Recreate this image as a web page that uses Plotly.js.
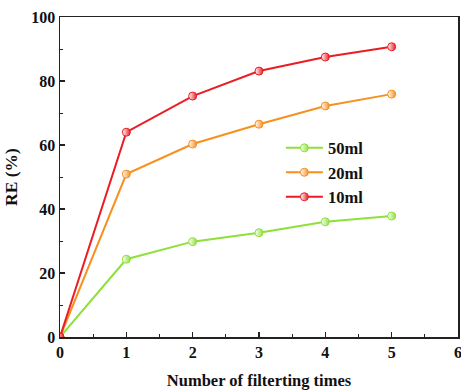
<!DOCTYPE html>
<html>
<head>
<meta charset="utf-8">
<script src="https://cdn.plot.ly/plotly-3.0.1.min.js"></script>
<style>html,body{margin:0;padding:0;background:#fff;}#chart{width:461px;height:390px;}</style>
</head>
<body>
<div id="chart"></div>
<script>
var filterTimes = [0, 1, 2, 3, 4, 5];
var re50ml = [0, 24.3, 29.8, 32.6, 36.0, 37.8];
var re20ml = [0, 50.9, 60.3, 66.5, 72.2, 75.9];
var re10ml = [0, 64.0, 75.3, 83.1, 87.5, 90.7];
var seriesNames = ['50ml', '20ml', '10ml'];
var seriesColors = ['#8ee03a', '#f7901e', '#ea1c24'];
var seriesValues = [re50ml, re20ml, re10ml];

var font = 'Liberation Serif, Times New Roman, serif';
var traces = seriesValues.map(function (vals, i) {
  return {
    x: filterTimes,
    y: vals,
    name: seriesNames[i],
    type: 'scatter',
    mode: 'lines+markers',
    line: {color: seriesColors[i], width: 2},
    marker: {
      symbol: 'circle',
      size: 8,
      color: '#ffffff',
      gradient: {type: 'horizontal', color: seriesColors[i]},
      line: {color: seriesColors[i], width: 1}
    }
  };
});

var layout = {
  width: 461, height: 390,
  margin: {l: 60, r: 3, t: 17, b: 53},
  paper_bgcolor: '#fff', plot_bgcolor: '#fff',
  font: {family: font, color: '#111', size: 15},
  showlegend: true,
  legend: {
    x: 0.555, y: 0.645, xanchor: 'left', yanchor: 'top',
    bgcolor: 'rgba(0,0,0,0)',
    font: {family: font, size: 16.5, color: '#111', weight: 'bold'},
    tracegroupgap: 0, itemwidth: 37
  },
  xaxis: {
    range: [0, 6], dtick: 1, showgrid: false, zeroline: false,
    showline: true, linecolor: '#222', linewidth: 1.5, mirror: true,
    ticks: 'inside', ticklen: 5, tickwidth: 1.2, tickcolor: '#222',
    ticklabeloverflow: 'allow',
    minor: {dtick: 0.5, ticks: 'inside', ticklen: 3, tickwidth: 1, tickcolor: '#222'},
    tickfont: {family: font, size: 16, weight: 'bold', color: '#111'},
    title: {text: 'Number of filterting times', standoff: 14, font: {family: font, size: 16.5, weight: 'bold', color: '#111'}}
  },
  yaxis: {
    range: [0, 100], dtick: 20, showgrid: false, zeroline: false,
    showline: true, linecolor: '#222', linewidth: 1.5, mirror: true,
    ticks: 'inside', ticklen: 5, tickwidth: 1.2, tickcolor: '#222',
    minor: {dtick: 10, ticks: 'inside', ticklen: 3, tickwidth: 1, tickcolor: '#222'},
    tickfont: {family: font, size: 16, weight: 'bold', color: '#111'},
    title: {text: 'RE (%)', standoff: 9, font: {family: font, size: 17.5, weight: 'bold', color: '#111'}}
  }
};

Plotly.newPlot('chart', traces, layout, {displayModeBar: false, staticPlot: true});
</script>
</body>
</html>
